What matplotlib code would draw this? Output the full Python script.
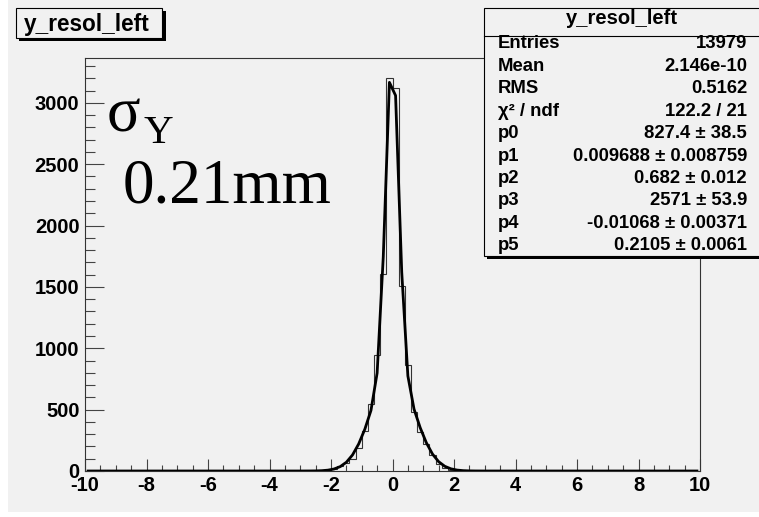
import numpy as np
import matplotlib
matplotlib.use("Agg")
import matplotlib.pyplot as plt
from matplotlib.patches import Rectangle
from matplotlib.ticker import MultipleLocator

# ---------------- data ----------------
x_min, x_max, n_bins = -10.0, 10.0, 100
core_first_edge = -2.4
core_counts = [3, 8, 18, 40, 62, 98, 190, 325, 542, 949, 1607, 3201,
               3117, 1510, 867, 482, 320, 217, 130, 55, 25, 10, 4, 2]
fit_p = [827.4, 0.009688, 0.682, 2571.0, -0.01068, 0.2105]
stat_labels = ["Entries", "Mean", "RMS", "\u03c7\u00b2 / ndf", "p0", "p1", "p2", "p3", "p4", "p5"]
stat_values = ["13979", "2.146e-10", "0.5162", "122.2 / 21", "827.4 \u00b1 38.5",
               "0.009688 \u00b1 0.008759", "0.682 \u00b1 0.012", "2571 \u00b1 53.9",
               "-0.01068 \u00b1 0.00371", "0.2105 \u00b1 0.0061"]
hist_name = "y_resol_left"
y_max = 3365

# ---------------- build ----------------
edges = np.linspace(x_min, x_max, n_bins + 1)
counts = np.zeros(n_bins)
i0 = int(round((core_first_edge - x_min) / (edges[1] - edges[0])))
counts[i0:i0 + len(core_counts)] = core_counts
centers = 0.5 * (edges[:-1] + edges[1:])
p0, p1, p2, p3, p4, p5 = fit_p
fit_y = p0 * np.exp(-0.5 * ((centers - p1) / p2) ** 2) + p3 * np.exp(-0.5 * ((centers - p4) / p5) ** 2)

W, H = 759, 517
fig = plt.figure(figsize=(W / 100, H / 100), dpi=100, facecolor="white")
BG = "#f1f1f1"
SANS = ["Liberation Sans", "DejaVu Sans"]


def fx(px):
    return px / W


def fy(py):
    return 1 - py / H


fig.patches.append(Rectangle((fx(8), fy(512)), fx(W - 8), 512 / H, transform=fig.transFigure,
                             facecolor=BG, edgecolor="none", zorder=-5))

ax = fig.add_axes([fx(85), fy(471), (700 - 85) / W, (471 - 58) / H])
ax.set_zorder(1)
ax.set_facecolor(BG)
ax.stairs(counts, edges, color="#333333", linewidth=0.8, zorder=2)
ax.plot(centers, fit_y, color="black", linewidth=2.0, zorder=3, solid_joinstyle="round")
ax.set_xlim(x_min, x_max)
ax.set_ylim(0, y_max)
for s in ax.spines.values():
    s.set_color("#333333")
    s.set_linewidth(0.8)
ax.xaxis.set_major_locator(MultipleLocator(2))
ax.xaxis.set_minor_locator(MultipleLocator(0.5))
ax.yaxis.set_major_locator(MultipleLocator(500))
ax.yaxis.set_minor_locator(MultipleLocator(100))
ax.tick_params(axis="x", which="major", direction="in", length=8.6, width=0.8, color="#444444", pad=3.5)
ax.tick_params(axis="x", which="minor", direction="in", length=4.3, width=0.8, color="#444444")
ax.tick_params(axis="y", which="major", direction="in", length=13.7, width=0.8, color="#444444", pad=4)
ax.tick_params(axis="y", which="minor", direction="in", length=7.2, width=0.8, color="#444444")
ax.set_xticks(np.arange(-10, 11, 2))
ax.set_xticklabels([f"{v:d}" for v in range(-10, 11, 2)], fontfamily=SANS, fontweight="bold", fontsize=14.5)
ax.set_yticks(np.arange(0, 3001, 500))
ax.set_yticklabels([f"{v:d}" for v in range(0, 3001, 500)], fontfamily=SANS, fontweight="bold", fontsize=14.5)

# sigma annotation
SERIF = ["Liberation Serif", "DejaVu Serif"]
fig.text(fx(107), fy(131), "\u03c3", fontfamily=SERIF, fontsize=45, ha="left", va="baseline", zorder=4)
fig.text(fx(144), fy(143), "Y", fontfamily=SERIF, fontsize=29.5, ha="left", va="baseline", zorder=4)
fig.text(fx(123), fy(202), "0.21mm", fontfamily=SERIF, fontsize=45.5, ha="left", va="baseline", zorder=4)

# title box
fig.patches.append(Rectangle((fx(19), fy(41)), fx(147), 30 / H, transform=fig.transFigure,
                             facecolor="black", edgecolor="none", zorder=5))
fig.patches.append(Rectangle((fx(16), fy(38)), fx(146), 30 / H, transform=fig.transFigure,
                             facecolor=BG, edgecolor="black", linewidth=0.8, zorder=6))
fig.text(fx(87), fy(24), hist_name, fontfamily=SANS, fontweight="bold", fontsize=16.3,
         ha="center", va="center", zorder=7)

# stats box
fig.patches.append(Rectangle((fx(487), fy(259)), fx(300), 251 / H, transform=fig.transFigure,
                             facecolor="black", edgecolor="none", zorder=5))
fig.patches.append(Rectangle((fx(484), fy(256)), fx(300), 248 / H, transform=fig.transFigure,
                             facecolor=BG, edgecolor="black", linewidth=0.8, zorder=6))
fig.lines.append(plt.Line2D([fx(484), fx(W)], [fy(35.5), fy(35.5)], transform=fig.transFigure,
                            color="black", linewidth=0.8, zorder=7))
fig.text(fx(622), fy(19), hist_name, fontfamily=SANS, fontweight="bold", fontsize=14.5,
         ha="center", va="center", zorder=7)
for i, (lab, val) in enumerate(zip(stat_labels, stat_values)):
    yc = 44 + 22.4 * i
    fig.text(fx(498), fy(yc), lab, fontfamily=SANS, fontweight="bold", fontsize=13.3,
             ha="left", va="center", zorder=7)
    fig.text(fx(747), fy(yc), val, fontfamily=SANS, fontweight="bold", fontsize=13.3,
             ha="right", va="center", zorder=7)

fig.savefig("out.png", dpi=100, facecolor="white")
